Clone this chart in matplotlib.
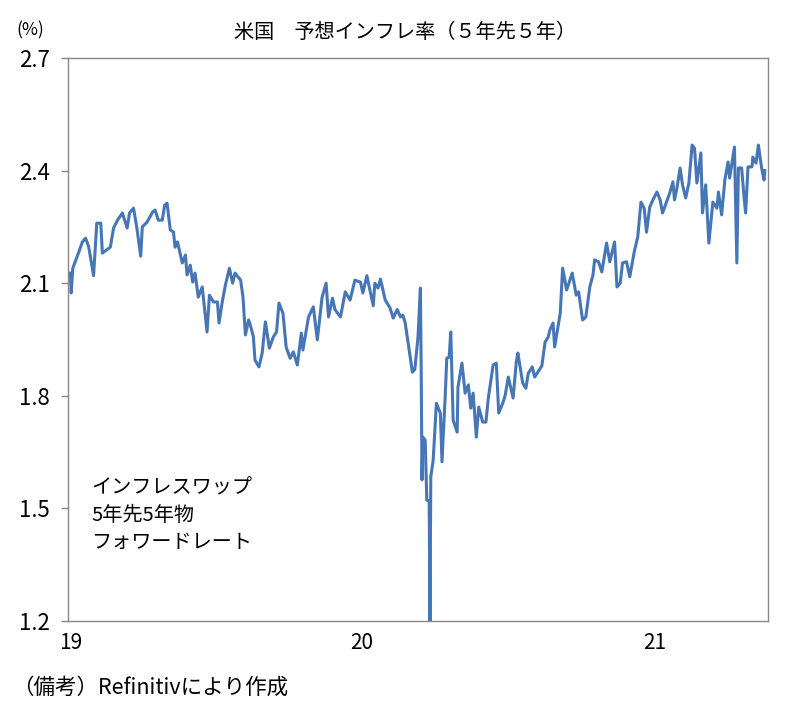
import matplotlib
matplotlib.use("Agg")
from matplotlib import pyplot as plt
import pandas as pd

plt.rcParams['font.family'] = ['Noto Sans CJK JP', 'DejaVu Sans']

# days after 2019-01-01
days = [0, 1, 3, 10, 15, 19, 23, 29, 33, 38, 40, 46, 50, 54, 59, 65, 71, 74, 79, 83,
        88, 90, 96, 103, 106, 110, 115, 118, 121, 125, 129, 131, 134, 140, 144, 146, 150, 153, 156, 160,
        165, 171, 174, 179, 184, 186, 190, 194, 199, 203, 206, 213, 216, 219, 223, 225, 229, 231, 236, 240,
        244, 249, 254, 258, 261, 266, 270, 275, 279, 284, 289, 291, 298, 304, 309, 315, 320, 323, 328, 331,
        338, 344, 350, 356, 363, 366, 371, 379, 381, 385, 388, 394, 400, 404, 409, 413, 416, 419, 428, 431,
        435, 438, 439, 440, 441, 444, 446, 449, 450, 451, 454, 458, 463, 465, 469, 471, 474, 476, 479, 484,
        485, 490, 494, 498, 501, 504, 508, 511, 516, 520, 523, 529, 533, 536, 541, 544, 548, 554, 558, 560,
        566, 570, 573, 578, 581, 585, 590, 594, 598, 600, 604, 606, 613, 616, 621, 628, 633, 636, 641, 645,
        650, 654, 656, 661, 665, 671, 675, 678, 681, 684, 688, 691, 696, 700, 706, 710, 714, 718, 721, 725,
        729, 734, 738, 741, 746, 750, 754, 756, 759, 763, 766, 770, 774, 778, 781, 784, 789, 791, 795, 799,
        804, 809, 811, 815, 819, 823, 825, 831, 834, 836, 840, 843, 845, 848, 853, 854, 858, 861, 865, 868,
        869]

rate = [2.127, 2.074, 2.14, 2.18, 2.21, 2.22, 2.196, 2.12, 2.26, 2.26, 2.18, 2.19, 2.196, 2.247, 2.268, 2.287, 2.247, 2.287, 2.30, 2.25,
        2.172, 2.25, 2.263, 2.29, 2.295, 2.268, 2.268, 2.308, 2.313, 2.242, 2.236, 2.196, 2.21, 2.154, 2.175, 2.122, 2.148, 2.103, 2.127, 2.063,
        2.09, 1.97, 2.068, 2.05, 2.05, 1.994, 2.05, 2.095, 2.14, 2.10, 2.127, 2.108, 2.063, 1.962, 2.002, 1.99, 1.957, 1.895, 1.877, 1.914,
        1.997, 1.927, 1.957, 1.97, 2.047, 2.02, 1.93, 1.90, 1.917, 1.882, 1.967, 1.922, 2.01, 2.037, 1.949, 2.063, 2.10, 2.01, 2.06, 2.03,
        2.01, 2.077, 2.055, 2.108, 2.103, 2.074, 2.12, 2.04, 2.10, 2.087, 2.111, 2.055, 2.034, 2.007, 2.03, 2.01, 2.015, 1.994, 1.863, 1.87,
        1.957, 2.087, 1.87, 1.576, 1.69, 1.682, 1.522, 1.52, 1.2, 1.584, 1.629, 1.78, 1.754, 1.624, 1.797, 1.90, 1.903, 1.97, 1.735, 1.703,
        1.823, 1.887, 1.807, 1.829, 1.767, 1.807, 1.69, 1.77, 1.73, 1.73, 1.794, 1.882, 1.887, 1.754, 1.78, 1.80, 1.85, 1.794, 1.89, 1.914,
        1.834, 1.82, 1.86, 1.877, 1.85, 1.863, 1.88, 1.943, 1.957, 1.975, 1.994, 1.93, 2.02, 2.14, 2.082, 2.127, 2.068, 2.077, 2.002, 2.01,
        2.09, 2.122, 2.162, 2.157, 2.13, 2.207, 2.157, 2.183, 2.21, 2.09, 2.10, 2.154, 2.157, 2.117, 2.188, 2.223, 2.316, 2.30, 2.236, 2.303,
        2.322, 2.343, 2.322, 2.287, 2.316, 2.34, 2.37, 2.322, 2.353, 2.407, 2.362, 2.327, 2.367, 2.468, 2.46, 2.367, 2.447, 2.287, 2.362, 2.207,
        2.316, 2.30, 2.343, 2.282, 2.375, 2.423, 2.38, 2.463, 2.154, 2.407, 2.407, 2.33, 2.287, 2.41, 2.41, 2.436, 2.42, 2.468, 2.407, 2.375,
        2.40]

year_ticks = ['2019-01-01', '2020-01-01', '2021-01-01']
year_labels = ['19', '20', '21']
y_ticks = [1.2, 1.5, 1.8, 2.1, 2.4, 2.7]

dates = pd.Timestamp('2019-01-01') + pd.to_timedelta(days, unit='D')

fig = plt.figure(figsize=(7.93, 7.02), dpi=100)
ax = fig.add_axes([68 / 793, 1 - 621 / 702, 700 / 793, 563 / 702])

ax.plot(dates, rate, color='#4676B6', lw=2.2)

ax.set_xlim(pd.Timestamp('2018-12-29'), pd.Timestamp('2021-05-23'))
ax.set_ylim(1.2, 2.7)
ax.set_xticks(pd.to_datetime(year_ticks))
ax.set_xticklabels(year_labels)
ax.set_yticks(y_ticks)
ax.set_yticklabels([f'{v:.1f}' for v in y_ticks])
ax.tick_params(axis='x', length=0, pad=8, labelsize=15)
ax.tick_params(axis='y', length=5, width=1, color='#888888', pad=8, labelsize=16)
for s in ax.spines.values():
    s.set_color('#888888')
    s.set_linewidth(1)

fig.text(405 / 793, 1 - 32 / 702, '米国　予想インフレ率（５年先５年）', ha='center', va='center', fontsize=14.5)
fig.text(30 / 793, 1 - 30 / 702, '(%)', ha='center', va='center', fontsize=12.5)
ax.text(0.033, 0.255, 'インフレスワップ\n5年先5年物\nフォワードレート', transform=ax.transAxes,
        ha='left', va='top', fontsize=14.5, linespacing=1.4)
fig.text(12 / 793, 1 - 688 / 702, '（備考）Refinitivにより作成', ha='left', va='center', fontsize=15.5)

fig.savefig('out.png', dpi=100)
